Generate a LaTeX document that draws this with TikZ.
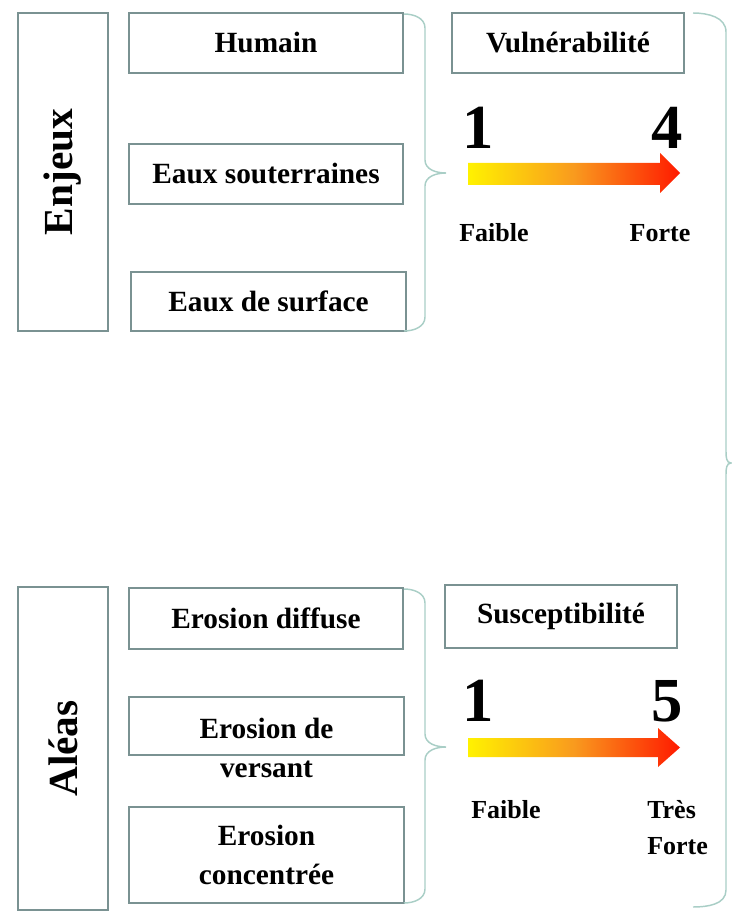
\documentclass[tikz,border=0pt]{standalone}
\usepackage{fontspec}
\setmainfont{Liberation Serif}
\definecolor{boxc}{HTML}{7A9292}
\definecolor{bracec}{HTML}{A9CEC6}
\definecolor{ylw}{HTML}{FFF200}
\definecolor{org}{HTML}{F99A1E}
\definecolor{rd}{HTML}{FF1A00}
\begin{document}
\begin{tikzpicture}[x=0.75pt,y=-0.75pt,
  box/.style={draw=boxc, line width=2pt, fill=white, inner sep=0pt, align=center,
    font=\fontsize{22}{29}\selectfont\bfseries},
  side/.style={box, font=\fontsize{31}{36}\selectfont\bfseries},
  txt/.style={inner sep=0pt, align=center, font=\fontsize{22}{29.5}\selectfont\bfseries},
  lbl/.style={inner sep=0pt, align=center, font=\fontsize{19.5}{27}\selectfont\bfseries},
  num/.style={inner sep=0pt, font=\fontsize{47}{50}\selectfont\bfseries},
  brace/.style={draw=bracec, line width=1.1pt},
  grad/.style={left color=ylw, right color=rd, middle color=org}]
\useasboundingbox (0,0) rectangle (731,916);
% ---------- upper part ----------
\node[side, minimum width=67.5pt, minimum height=238.5pt] (enj) at (63,172) {};
\node[rotate=90, inner sep=0pt, font=\fontsize{31}{36}\selectfont\bfseries] (enjt) at (63,172) {Enjeux};
\node[box, minimum width=205.5pt, minimum height=45pt] (hum) at (266,43) {Humain};
\node[box, minimum width=205.5pt, minimum height=45pt] (eso) at (266,174) {Eaux souterraines};
\node[box, minimum width=206.25pt, minimum height=44.25pt] (esu) at (268.5,301.5) {Eaux de surface};
\node[box, minimum width=174pt, minimum height=45pt] (vul) at (568,43) {Vulnérabilité};
\node[num] (n1a) at (478,128) {1};
\node[num] (n4) at (667,128) {4};
\shade[grad] (468,163) -- (660,163) -- (660,153) -- (680,173) -- (660,193) -- (660,185) -- (468,185) -- cycle;
\node[lbl] (fa1) at (494,233) {Faible};
\node[lbl] (fo1) at (660,233) {Forte};
\draw[brace] (404,14) to[out=0,in=90] (425,28) -- (425,160) to[out=-90,in=180] (446,173)
  to[out=180,in=90] (425,186) -- (425,317) to[out=-90,in=0] (404,331);
% ---------- lower part ----------
\node[side, minimum width=67.5pt, minimum height=242.25pt] (ale) at (63,748.5) {};
\node[rotate=90, inner sep=0pt, font=\fontsize{31}{36}\selectfont\bfseries] (alet) at (63,748.5) {Aléas};
\node[box, minimum width=205.5pt, minimum height=45.75pt] (edi) at (266,618.5) {Erosion diffuse};
\node[box, minimum width=206.25pt, minimum height=43.5pt] (eve) at (266.5,726) {};
\node[txt] (evet) at (266.5,748) {Erosion de\\versant};
\node[box, minimum width=206.25pt, minimum height=72pt] (eco) at (266.5,855) {Erosion\\concentrée};
\node[box, minimum width=174pt, minimum height=47.25pt] (sus) at (561,616.5) {Susceptibilité};
\node[num] (n1b) at (478,701) {1};
\node[num] (n5) at (667,701) {5};
\shade[grad] (468,738) -- (658,738) -- (658,728) -- (680,747.5) -- (658,767) -- (658,757) -- (468,757) -- cycle;
\node[lbl] (fa2) at (506,810) {Faible};
\node[lbl, align=left, anchor=west] (tf) at (647,828) {Très\\Forte};
\draw[brace] (404,589) to[out=0,in=90] (425,603) -- (425,734) to[out=-90,in=180] (446,747)
  to[out=180,in=90] (425,760) -- (425,889) to[out=-90,in=0] (404,903);
% ---------- big brace ----------
\draw[brace] (693,13) to[out=0,in=90] (726,32) -- (726,452) to[out=-90,in=180] (731,463)
  to[out=180,in=90] (726,474) -- (726,890) to[out=-90,in=0] (693,907);
\end{tikzpicture}
\end{document}
